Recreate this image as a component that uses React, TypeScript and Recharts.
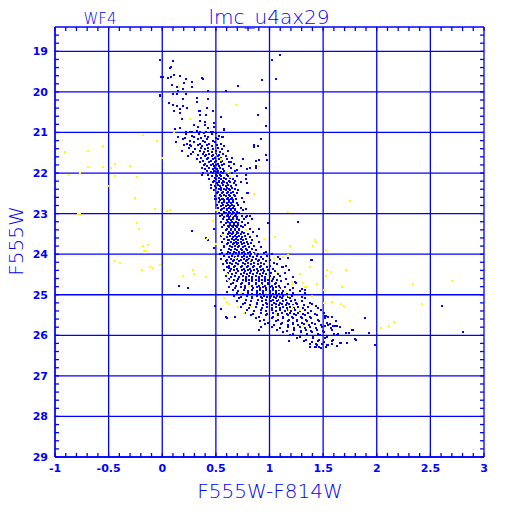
import React from 'react';
import { ScatterChart, Scatter, XAxis, YAxis, ReferenceLine } from 'recharts';

const BLUE = '#0000ff';
const YELLOW = '#ffff00';

const X_DOMAIN: [number, number] = [-1, 3];
const Y_DOMAIN: [number, number] = [18.4, 29];
const xMajorTicks = [-1, -0.5, 0, 0.5, 1, 1.5, 2, 2.5, 3];
const xMinorTicks = [-0.9, -0.8, -0.7, -0.6, -0.4, -0.3, -0.2, -0.1, 0.1, 0.2, 0.3, 0.4, 0.6, 0.7, 0.8, 0.9, 1.1, 1.2, 1.3, 1.4, 1.6, 1.7, 1.8, 1.9, 2.1, 2.2, 2.3, 2.4, 2.6, 2.7, 2.8, 2.9];
const yMajorTicks = [19, 20, 21, 22, 23, 24, 25, 26, 27, 28, 29];
const yMinorTicks = [18.6, 18.8, 19.2, 19.4, 19.6, 19.8, 20.2, 20.4, 20.6, 20.8, 21.2, 21.4, 21.6, 21.8, 22.2, 22.4, 22.6, 22.8, 23.2, 23.4, 23.6, 23.8, 24.2, 24.4, 24.6, 24.8, 25.2, 25.4, 25.6, 25.8, 26.2, 26.4, 26.6, 26.8, 27.2, 27.4, 27.6, 27.8, 28.2, 28.4, 28.6, 28.8];
// inward tick-mark lengths, in data units (~4 px)
const TICK_DX = 0.037;
const TICK_DY = 0.1;

// Sparse blue stars (colour, magnitude)
const blueScatter: [number, number][] = [
  [-0.02, 19.21], [0.10, 19.25], [0.07, 19.41], [0.08, 19.38], [0.11, 19.58], [0.17, 19.61], [-0.01, 19.63], [0.01, 19.64],
  [0.05, 19.66], [0.08, 19.64], [0.22, 19.69], [0.28, 19.76], [0.37, 19.66], [0.38, 19.69], [0.09, 19.82], [0.20, 19.79],
  [0.14, 19.89], [0.15, 19.97], [0.19, 19.94], [0.28, 19.87], [0.43, 19.98], [0.59, 19.97], [0.71, 19.85], [-0.02, 20.07],
  [-0.02, 20.10], [0.10, 20.05], [0.14, 20.05], [0.19, 20.17], [0.22, 20.05], [0.32, 20.15], [0.43, 20.17], [0.06, 20.27],
  [0.10, 20.33], [0.14, 20.35], [0.17, 20.41], [0.19, 20.35], [0.23, 20.40], [0.32, 20.25], [0.34, 20.46], [0.35, 20.46],
  [0.42, 20.40], [0.47, 20.46], [0.11, 20.48], [0.17, 20.51], [0.35, 20.56], [0.41, 20.58], [0.55, 20.61], [0.18, 20.67],
  [0.35, 20.72], [0.40, 20.74], [0.30, 20.82], [0.33, 20.86], [0.40, 20.82], [0.43, 20.89], [0.48, 20.77], [0.48, 20.87],
  [0.12, 20.91], [0.17, 20.88], [0.58, 20.92], [0.22, 20.98], [0.26, 20.99], [0.28, 21.0], [0.32, 20.97], [0.35, 21.0],
  [0.39, 21.01], [0.41, 20.98], [0.45, 21.0], [0.47, 20.99], [0.50, 21.01], [0.56, 21.12], [0.89, 20.56], [1.10, 19.08],
  [1.02, 19.21], [0.93, 19.71], [1.06, 19.67], [0.97, 20.40], [0.97, 20.84], [0.92, 21.15], [0.86, 21.32], [0.86, 21.35],
  [0.97, 21.55], [0.98, 21.68], [0.90, 21.68], [0.87, 21.83], [0.87, 21.87], [0.79, 21.91], [0.78, 22.04], [0.78, 22.15],
  [0.79, 22.48], [0.82, 23.07], [0.99, 23.22], [1.27, 23.20], [0.58, 20.94], [0.75, 21.65], [0.73, 21.83], [0.64, 21.74],
  [0.70, 21.92], [0.68, 22.20], [0.89, 21.33], [0.87, 21.71], [0.82, 21.87], [0.79, 22.24], [0.80, 22.48], [0.78, 22.88],
  [0.79, 23.07], [0.84, 23.14], [0.90, 23.37], [0.28, 23.42], [0.48, 23.37], [0.41, 23.61], [0.26, 21.32], [0.37, 22.04],
  [0.45, 22.37], [0.49, 22.63], [0.43, 23.66], [0.48, 23.84], [0.54, 23.99], [0.61, 23.65], [0.58, 23.80], [0.16, 24.78],
  [0.24, 24.83], [0.60, 24.21], [0.62, 24.34], [0.60, 24.93], [0.49, 25.29], [0.55, 25.34], [0.60, 25.57], [0.59, 25.55],
  [0.68, 25.54], [0.90, 25.86], [0.92, 25.80], [1.18, 26.13], [1.38, 26.28], [1.43, 26.21], [1.46, 26.28], [1.54, 26.24],
  [1.63, 26.26], [1.72, 26.18], [1.80, 26.09], [1.89, 25.57], [1.93, 25.95], [1.98, 26.23], [1.58, 25.54], [1.59, 25.78],
  [1.63, 25.77], [1.71, 25.95], [1.77, 25.87], [1.40, 24.15], [1.33, 24.88], [1.33, 24.95], [1.43, 25.27], [1.52, 25.52],
  [1.53, 25.52], [1.55, 25.75], [1.61, 25.77], [1.78, 25.86], [1.64, 25.96], [1.81, 26.11], [1.66, 26.18], [2.61, 25.28],
  [2.80, 25.93], [1.39, 24.14], [1.24, 24.68], [1.30, 24.85], [1.17, 24.09], [1.13, 24.31], [1.74, 25.95], [1.67, 26.19],
  [1.58, 26.21], [1.43, 26.29], [1.52, 25.78],
];

// Dense main-sequence rows: [magnitude, colours]
const blueRows: [number, number[]][] = [
  [21.04, [0.22, 0.34, 0.46]], [21.075, [0.28, 0.40, 0.53]],
  [21.10, [0.15, 0.30, 0.43, 0.57]], [21.135, [0.21, 0.36, 0.50]],
  [21.17, [0.19, 0.33, 0.42, 0.52]], [21.205, [0.26, 0.38, 0.47]],
  [21.24, [0.13, 0.30, 0.40, 0.49]], [21.275, [0.23, 0.35, 0.44, 0.55]],
  [21.31, [0.20, 0.33, 0.42, 0.51]], [21.345, [0.27, 0.37, 0.46, 0.58]],
  [21.38, [0.25, 0.36, 0.43, 0.52]], [21.415, [0.31, 0.40, 0.47, 0.56]],
  [21.45, [0.18, 0.35, 0.43, 0.50, 0.61]], [21.485, [0.29, 0.39, 0.46, 0.54]],
  [21.52, [0.27, 0.38, 0.44, 0.50, 0.57]], [21.555, [0.33, 0.41, 0.47, 0.53]],
  [21.59, [0.24, 0.40, 0.46, 0.52, 0.59]], [21.625, [0.36, 0.43, 0.49, 0.55, 0.65]],
  [21.66, [0.32, 0.42, 0.47, 0.53, 0.60]], [21.695, [0.38, 0.45, 0.50, 0.56]],
  [21.73, [0.35, 0.44, 0.49, 0.55, 0.62]], [21.765, [0.40, 0.47, 0.52, 0.58, 0.67]],
  [21.80, [0.39, 0.45, 0.50, 0.56]], [21.835, [0.42, 0.48, 0.53, 0.62]],
  [21.87, [0.37, 0.44, 0.49, 0.54, 0.64]], [21.905, [0.40, 0.47, 0.51, 0.57]],
  [21.94, [0.42, 0.48, 0.52, 0.58, 0.68]], [21.975, [0.45, 0.50, 0.55, 0.61]],
  [22.01, [0.38, 0.47, 0.52, 0.57, 0.65]], [22.045, [0.43, 0.50, 0.54, 0.60]],
  [22.08, [0.46, 0.51, 0.55, 0.61, 0.70]], [22.115, [0.49, 0.53, 0.58, 0.63]],
  [22.15, [0.44, 0.50, 0.55, 0.59, 0.66]], [22.185, [0.48, 0.53, 0.57, 0.62]],
  [22.22, [0.47, 0.53, 0.58, 0.63, 0.73]], [22.255, [0.51, 0.56, 0.60, 0.67]],
  [22.29, [0.45, 0.52, 0.57, 0.61, 0.69]], [22.325, [0.49, 0.54, 0.59, 0.64]],
  [22.36, [0.50, 0.55, 0.60, 0.65]], [22.395, [0.53, 0.58, 0.62, 0.68]],
  [22.43, [0.48, 0.55, 0.59, 0.63, 0.71]], [22.465, [0.52, 0.57, 0.61, 0.66]],
  [22.50, [0.51, 0.56, 0.60, 0.64, 0.70]], [22.535, [0.54, 0.58, 0.62, 0.67]],
  [22.57, [0.49, 0.55, 0.59, 0.63, 0.68]], [22.605, [0.53, 0.57, 0.61, 0.65, 0.74]],
  [22.64, [0.50, 0.56, 0.60, 0.64, 0.69]], [22.675, [0.54, 0.58, 0.62, 0.66]],
  [22.71, [0.53, 0.58, 0.62, 0.66, 0.76]], [22.745, [0.56, 0.60, 0.64, 0.70]],
  [22.78, [0.51, 0.57, 0.61, 0.65, 0.71]], [22.815, [0.55, 0.59, 0.63, 0.67]],
  [22.85, [0.52, 0.58, 0.62, 0.66, 0.73]], [22.885, [0.56, 0.60, 0.64, 0.68]],
  [22.92, [0.55, 0.60, 0.64, 0.68, 0.75]], [22.955, [0.58, 0.62, 0.66, 0.70]],
  [22.99, [0.53, 0.59, 0.63, 0.67, 0.72]], [23.025, [0.56, 0.61, 0.65, 0.69]],
  [23.06, [0.54, 0.60, 0.64, 0.68, 0.74]], [23.095, [0.58, 0.62, 0.66, 0.70, 0.78]],
  [23.13, [0.57, 0.62, 0.66, 0.70, 0.76]], [23.165, [0.60, 0.64, 0.68, 0.72]],
  [23.20, [0.55, 0.61, 0.65, 0.69, 0.74]], [23.235, [0.59, 0.63, 0.67, 0.71, 0.80]],
  [23.27, [0.58, 0.63, 0.67, 0.71, 0.77]], [23.305, [0.61, 0.65, 0.69, 0.73]],
  [23.34, [0.56, 0.62, 0.66, 0.70, 0.75]], [23.375, [0.60, 0.64, 0.68, 0.72, 0.82]],
  [23.41, [0.59, 0.64, 0.68, 0.72, 0.78]], [23.445, [0.62, 0.66, 0.70, 0.74, 0.85]],
  [23.48, [0.57, 0.63, 0.67, 0.71, 0.76]], [23.515, [0.61, 0.65, 0.69, 0.73, 0.80]],
  [23.55, [0.55, 0.63, 0.68, 0.72, 0.77, 0.88]], [23.585, [0.60, 0.66, 0.70, 0.74, 0.82]],
  [23.62, [0.58, 0.65, 0.69, 0.73, 0.78]], [23.655, [0.62, 0.67, 0.71, 0.75, 0.84]],
  [23.69, [0.56, 0.64, 0.69, 0.73, 0.79, 0.90]], [23.725, [0.61, 0.67, 0.71, 0.76, 0.83]],
  [23.76, [0.60, 0.66, 0.70, 0.74, 0.80]], [23.795, [0.63, 0.68, 0.72, 0.77, 0.86]],
  [23.83, [0.58, 0.65, 0.71, 0.75, 0.81, 0.92]], [23.865, [0.62, 0.68, 0.73, 0.78, 0.84]],
  [23.90, [0.55, 0.64, 0.70, 0.74, 0.79, 0.87]], [23.935, [0.61, 0.67, 0.72, 0.76, 0.82, 0.97]],
  [23.97, [0.56, 0.63, 0.69, 0.74, 0.80, 0.86, 0.95]], [24.005, [0.60, 0.66, 0.72, 0.77, 0.83, 0.89, 1.02]],
  [24.04, [0.58, 0.65, 0.71, 0.76, 0.82, 0.88, 0.98]], [24.075, [0.62, 0.68, 0.74, 0.79, 0.85, 0.92, 1.08]],
  [24.11, [0.55, 0.64, 0.70, 0.76, 0.81, 0.87, 0.94, 1.10]], [24.145, [0.60, 0.67, 0.73, 0.79, 0.84, 0.90, 1.00]],
  [24.18, [0.59, 0.66, 0.72, 0.78, 0.83, 0.89, 0.97]], [24.215, [0.63, 0.69, 0.75, 0.80, 0.86, 0.92, 1.04]],
  [24.25, [0.57, 0.65, 0.71, 0.77, 0.83, 0.89, 0.95, 1.07]], [24.285, [0.62, 0.68, 0.74, 0.80, 0.86, 0.92, 1.00, 1.15]],
  [24.32, [0.60, 0.67, 0.73, 0.79, 0.85, 0.91, 0.98, 1.12]], [24.355, [0.64, 0.70, 0.76, 0.82, 0.88, 0.94, 1.03]],
  [24.39, [0.58, 0.67, 0.74, 0.80, 0.86, 0.92, 0.99, 1.18]], [24.425, [0.63, 0.71, 0.77, 0.83, 0.89, 0.95, 1.05]],
  [24.46, [0.61, 0.69, 0.76, 0.82, 0.88, 0.94, 1.01, 1.14]], [24.495, [0.65, 0.73, 0.79, 0.85, 0.91, 0.97, 1.08]],
  [24.53, [0.59, 0.68, 0.75, 0.81, 0.87, 0.93, 1.00, 1.10]], [24.565, [0.64, 0.72, 0.78, 0.84, 0.90, 0.96, 1.04, 1.22]],
  [24.60, [0.62, 0.71, 0.78, 0.84, 0.90, 0.96, 1.03, 1.15]], [24.635, [0.67, 0.75, 0.81, 0.87, 0.93, 0.99, 1.07]],
  [24.67, [0.60, 0.70, 0.78, 0.84, 0.90, 0.96, 1.02, 1.11]], [24.705, [0.66, 0.74, 0.81, 0.87, 0.93, 0.99, 1.06, 1.25]],
  [24.74, [0.64, 0.73, 0.81, 0.87, 0.93, 0.99, 1.05, 1.17]], [24.775, [0.69, 0.77, 0.84, 0.90, 0.96, 1.02, 1.09]],
  [24.81, [0.62, 0.73, 0.81, 0.88, 0.94, 1.00, 1.06, 1.14]], [24.845, [0.68, 0.77, 0.85, 0.91, 0.97, 1.03, 1.10, 1.22]],
  [24.88, [0.66, 0.76, 0.84, 0.91, 0.97, 1.03, 1.09, 1.19]], [24.915, [0.71, 0.80, 0.88, 0.94, 1.00, 1.06, 1.13, 1.28]],
  [24.95, [0.70, 0.80, 0.88, 0.94, 1.00, 1.06, 1.12, 1.22]], [24.985, [0.75, 0.84, 0.91, 0.97, 1.03, 1.09, 1.16]],
  [25.02, [0.67, 0.79, 0.88, 0.95, 1.01, 1.07, 1.13, 1.21]], [25.055, [0.73, 0.84, 0.92, 0.98, 1.04, 1.10, 1.17, 1.30]],
  [25.09, [0.72, 0.84, 0.93, 1.00, 1.06, 1.12, 1.19, 1.33]], [25.125, [0.78, 0.89, 0.97, 1.03, 1.09, 1.15, 1.24]],
  [25.16, [0.70, 0.83, 0.93, 1.01, 1.07, 1.13, 1.20, 1.30]], [25.195, [0.77, 0.88, 0.97, 1.04, 1.10, 1.16, 1.25, 1.38]],
  [25.23, [0.75, 0.88, 0.98, 1.06, 1.12, 1.18, 1.26, 1.40]], [25.265, [0.82, 0.94, 1.02, 1.09, 1.15, 1.22, 1.32]],
  [25.30, [0.73, 0.87, 0.98, 1.06, 1.13, 1.19, 1.27, 1.36]], [25.335, [0.81, 0.93, 1.02, 1.10, 1.16, 1.23, 1.31, 1.45]],
  [25.37, [0.79, 0.92, 1.02, 1.10, 1.17, 1.24, 1.33, 1.48]], [25.405, [0.86, 0.97, 1.06, 1.14, 1.20, 1.28, 1.39]],
  [25.44, [0.77, 0.92, 1.03, 1.12, 1.19, 1.27, 1.36, 1.51]], [25.475, [0.85, 0.98, 1.08, 1.16, 1.23, 1.31, 1.42]],
  [25.51, [0.83, 0.97, 1.08, 1.17, 1.25, 1.33, 1.44]], [25.545, [0.90, 1.03, 1.13, 1.21, 1.29, 1.38, 1.55]],
  [25.58, [0.87, 1.02, 1.13, 1.22, 1.30, 1.39, 1.52]], [25.615, [0.95, 1.08, 1.18, 1.26, 1.34, 1.45]],
  [25.65, [0.91, 1.06, 1.17, 1.26, 1.35, 1.46, 1.62]], [25.685, [0.99, 1.12, 1.22, 1.30, 1.40, 1.54]],
  [25.72, [0.96, 1.11, 1.22, 1.32, 1.42, 1.56]], [25.755, [1.04, 1.17, 1.27, 1.37, 1.48]],
  [25.79, [1.02, 1.17, 1.28, 1.38, 1.49, 1.66]], [25.825, [1.10, 1.23, 1.33, 1.43, 1.57]],
  [25.86, [1.07, 1.23, 1.34, 1.44, 1.58]], [25.895, [1.16, 1.29, 1.39, 1.50]],
  [25.93, [1.13, 1.29, 1.40, 1.51]], [25.965, [1.22, 1.35, 1.45, 1.60]],
  [26.00, [1.19, 1.35, 1.47, 1.63]], [26.035, [1.28, 1.41, 1.54]],
  [26.07, [1.26, 1.41, 1.52]], [26.105, [1.34, 1.46, 1.59]],
  [26.14, [1.32, 1.45, 1.58]], [26.175, [1.40, 1.51]],
  [26.21, [1.38, 1.49]], [26.245, [1.44, 1.55]],
  [26.28, [1.42, 1.53]], [26.315, [1.48]],
];

// Yellow stars
const yellowStars: [number, number][] = [
  [-0.18, 21.05], [-0.05, 21.20], [-0.55, 21.33], [-0.69, 21.45], [-0.91, 21.51], [-0.91, 21.47], [0.00, 21.62], [-0.69, 21.84],
  [-0.55, 21.84], [-0.48, 21.87], [-0.44, 21.78], [-0.30, 21.82], [-0.87, 22.05], [-0.77, 22.00], [-0.44, 22.07], [-0.24, 22.09],
  [-0.51, 22.32], [-0.25, 22.61], [-0.07, 22.88], [0.04, 22.93], [0.07, 22.91], [-0.79, 23.02], [-0.77, 23.02], [-0.24, 23.22],
  [-0.22, 23.37], [-0.18, 23.81], [-0.13, 23.78], [-0.17, 23.91], [-0.15, 23.91], [-0.45, 24.16], [-0.39, 24.21], [-0.19, 24.39],
  [-0.11, 24.31], [-0.09, 24.35], [-0.02, 24.26], [0.19, 24.55], [0.29, 24.39], [0.30, 24.49], [0.41, 24.57], [0.42, 23.63],
  [0.56, 23.52], [0.50, 23.76], [0.60, 24.50], [0.61, 24.63], [0.58, 25.09], [0.60, 25.17], [0.62, 25.24], [0.16, 19.89],
  [0.69, 20.32], [0.26, 20.66], [0.11, 21.00], [0.45, 21.43], [0.55, 21.68], [0.61, 21.97], [0.86, 22.51], [1.17, 22.96],
  [0.47, 23.17], [0.50, 22.91], [0.65, 23.07], [1.05, 23.58], [1.19, 23.80], [0.69, 24.09], [0.71, 24.29], [0.82, 24.14],
  [0.85, 23.99], [1.04, 24.09], [1.13, 24.06], [1.17, 24.01], [1.07, 24.44], [1.21, 24.68], [1.21, 24.76], [1.28, 24.50],
  [1.34, 24.81], [1.01, 24.62], [0.97, 24.96], [1.09, 24.86], [1.15, 24.93], [1.18, 25.03], [0.92, 24.76], [0.81, 24.81],
  [0.73, 24.96], [0.71, 25.31], [1.10, 25.13], [1.22, 25.27], [1.18, 25.37], [1.28, 25.37], [0.76, 25.44], [0.83, 25.31],
  [1.06, 25.47], [1.75, 22.68], [1.42, 23.65], [1.43, 23.71], [1.41, 23.79], [1.53, 23.89], [1.38, 24.31], [1.54, 24.40],
  [1.57, 24.43], [1.71, 24.39], [1.53, 24.55], [1.31, 24.70], [1.44, 24.73], [1.33, 24.80], [1.51, 24.88], [1.68, 24.81],
  [2.34, 24.73], [2.70, 24.65], [1.51, 25.21], [1.58, 25.19], [1.67, 25.24], [1.69, 25.27], [2.42, 25.24], [2.04, 25.83],
  [2.11, 25.78], [2.16, 25.68], [1.40, 25.04], [1.31, 25.78], [1.35, 25.70], [1.22, 25.35], [0.49, 21.56], [0.55, 21.65],
  [0.63, 22.09], [0.90, 21.83], [0.57, 22.58], [0.68, 23.16], [0.78, 23.40], [0.95, 23.62], [0.68, 23.48],
];

const blueData = [
  ...blueScatter.map(([x, y]) => ({ x, y })),
  ...blueRows.flatMap(([y, xs]) => xs.map((x) => ({ x, y }))),
];
const yellowData = yellowStars.map(([x, y]) => ({ x, y }));

// grid lines as full-length segments at the major tick values, plus the top frame edge
const gridSegments = [
  ...xMajorTicks.map((v) => [{ x: v, y: Y_DOMAIN[0] }, { x: v, y: Y_DOMAIN[1] }]),
  ...[...yMajorTicks, Y_DOMAIN[0]].map((v) => [{ x: X_DOMAIN[0], y: v }, { x: X_DOMAIN[1], y: v }]),
];

// inward tick-mark segments on all four sides of the frame
const allXTicks = [...xMajorTicks, ...xMinorTicks];
const allYTicks = [...yMajorTicks, ...yMinorTicks];
const tickSegments = [
  ...allXTicks.map((v) => [{ x: v, y: Y_DOMAIN[1] }, { x: v, y: Y_DOMAIN[1] - TICK_DY }]),
  ...allXTicks.map((v) => [{ x: v, y: Y_DOMAIN[0] }, { x: v, y: Y_DOMAIN[0] + TICK_DY }]),
  ...allYTicks.map((v) => [{ x: X_DOMAIN[0], y: v }, { x: X_DOMAIN[0] + TICK_DX, y: v }]),
  ...allYTicks.map((v) => [{ x: X_DOMAIN[1], y: v }, { x: X_DOMAIN[1] - TICK_DX, y: v }]),
];

const square = (color: string) => (props: any) => {
  const { cx, cy } = props;
  if (cx == null || cy == null || isNaN(cx) || isNaN(cy)) return <g />;
  return <rect x={Math.round(cx) - 1} y={Math.round(cy) - 1} width={2} height={2} fill={color} />;
};

const tickStyle = { fill: BLUE, fontSize: 11, fontWeight: 'bold', fontFamily: 'DejaVu Sans' };
const lineStyle = { stroke: BLUE, strokeWidth: 1.3 };

export default function App() {
  return (
    <div style={{ position: 'absolute', left: 0, top: 0, width: 512, height: 512, background: '#fff' }}>
      <ScatterChart width={512} height={512} margin={{ top: 27, right: 28, bottom: 25, left: 15 }}>
        <XAxis dataKey="x" type="number" domain={X_DOMAIN} ticks={xMajorTicks}
          interval={0} orientation="bottom" height={30} axisLine={lineStyle} tickLine={false}
          tickSize={5} tickMargin={2} tick={tickStyle} />
        <YAxis dataKey="y" type="number" domain={Y_DOMAIN} reversed ticks={yMajorTicks}
          interval={0} orientation="left" width={40} axisLine={lineStyle} tickLine={false}
          tickSize={6} tickMargin={1} tick={tickStyle} />
        {gridSegments.map((seg, i) => (
          <ReferenceLine key={'g' + i} segment={seg} stroke={BLUE} strokeWidth={1.3} />
        ))}
        {tickSegments.map((seg, i) => (
          <ReferenceLine key={'t' + i} segment={seg} stroke={BLUE} strokeWidth={1.3} />
        ))}
        <Scatter data={blueData} fill={BLUE} shape={square(BLUE)} isAnimationActive={false} />
        <Scatter data={yellowData} fill={YELLOW} shape={square(YELLOW)} isAnimationActive={false} />
      </ScatterChart>
      <svg width={512} height={512} style={{ position: 'absolute', left: 0, top: 0, pointerEvents: 'none' }}>
        <text x={100} y={24} textAnchor="middle" fontSize={15} fill={BLUE} fontFamily="DejaVu Sans" fontWeight={200}>WF4</text>
        <text x={269} y={24} textAnchor="middle" fontSize={20} fill={BLUE} fontFamily="DejaVu Sans" fontWeight={200}>lmc_u4ax29</text>
        <text x={270} y={498} textAnchor="middle" fontSize={20} fill={BLUE} fontFamily="DejaVu Sans" fontWeight={200}>F555W-F814W</text>
        <text transform="translate(23,241) rotate(-90)" textAnchor="middle" fontSize={20} fill={BLUE} fontFamily="DejaVu Sans" fontWeight={200}>F555W</text>
      </svg>
    </div>
  );
}
